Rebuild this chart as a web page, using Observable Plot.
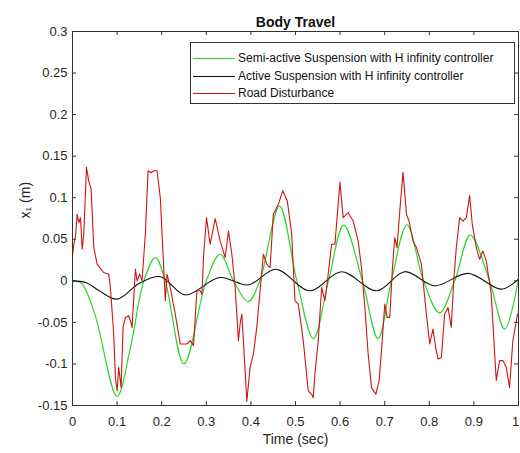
<!DOCTYPE html>
<html><head><meta charset="utf-8">
<script src="https://cdn.jsdelivr.net/npm/d3@7"></script>
<script src="https://cdn.jsdelivr.net/npm/@observablehq/plot@0.6"></script>
<style>body{margin:0;background:#fff}</style>
</head><body><div id="chart"></div>
<script>
const title = "Body Travel";
const xLabel = "Time (sec)";
const yLabel = "x\u2081 (m)";
const xTicks = [0, 0.1, 0.2, 0.3, 0.4, 0.5, 0.6, 0.7, 0.8, 0.9, 1];
const xTickLabels = ["0", "0.1", "0.2", "0.3", "0.4", "0.5", "0.6", "0.7", "0.8", "0.9", "1"];
const yTicks = [-0.15, -0.1, -0.05, 0, 0.05, 0.1, 0.15, 0.2, 0.25, 0.3];
const yTickLabels = ["-0.15", "-0.1", "-0.05", "0", "0.05", "0.1", "0.15", "0.2", "0.25", "0.3"];
const seriesNames = [
  "Semi-active Suspension with H infinity controller",
  "Active Suspension with H infinity controller",
  "Road Disturbance"
];
const seriesColors = ["#2ad62a", "#111111", "#cc1515"];

// Semi-active suspension (green)
const semiT = [0, 0.02, 0.05, 0.1, 0.13, 0.16, 0.186, 0.208, 0.25, 0.3, 0.331, 0.361, 0.394, 0.42, 0.464, 0.503, 0.54, 0.574, 0.608, 0.65, 0.685, 0.715, 0.75, 0.787, 0.823, 0.857, 0.892, 0.935, 0.969, 1.0];
const semiX = [0, -0.003, -0.04, -0.139, -0.08, 0, 0.028, 0, -0.1, 0, 0.032, 0, -0.025, 0, 0.09, 0, -0.0695, 0, 0.067, 0, -0.0695, 0, 0.0675, 0, -0.0386, 0, 0.055, 0, -0.058, 0.002];

// Active suspension (black)
const activeT = [0, 0.03, 0.06, 0.1, 0.15, 0.197, 0.253, 0.33, 0.394, 0.456, 0.532, 0.603, 0.682, 0.745, 0.812, 0.887, 0.961, 1.0];
const activeX = [0, -0.002, -0.012, -0.022, -0.003, 0.005, -0.017, 0.004, -0.005, 0.014, -0.012, 0.011, -0.012, 0.011, -0.006, 0.009, -0.01, 0.002];

// Road disturbance (red)
const roadT = [0, 0.003, 0.0067, 0.0105, 0.0141, 0.0179, 0.0217, 0.0253, 0.0313, 0.0365, 0.0418, 0.0477, 0.0553, 0.07, 0.0812, 0.085, 0.0924, 0.0962, 0.1, 0.1036, 0.109, 0.1134, 0.1186, 0.126, 0.1298, 0.1336, 0.141, 0.1448, 0.1506, 0.1559, 0.1633, 0.1694, 0.1761, 0.1819, 0.1895, 0.1969, 0.2081, 0.2119, 0.2192, 0.2304, 0.2416, 0.2566, 0.264, 0.2714, 0.2752, 0.279, 0.2864, 0.2902, 0.2937, 0.3004, 0.3087, 0.3199, 0.3311, 0.3423, 0.3497, 0.3573, 0.3647, 0.372, 0.3758, 0.3796, 0.3832, 0.3908, 0.3982, 0.4056, 0.4132, 0.4206, 0.428, 0.4356, 0.443, 0.4503, 0.4615, 0.4714, 0.4817, 0.4915, 0.4989, 0.5063, 0.5174, 0.5286, 0.5362, 0.5398, 0.5436, 0.551, 0.5586, 0.566, 0.5698, 0.581, 0.5884, 0.5996, 0.6069, 0.6181, 0.6293, 0.6405, 0.6481, 0.6555, 0.6629, 0.6705, 0.6801, 0.6875, 0.6928, 0.7002, 0.7054, 0.7114, 0.7174, 0.7226, 0.7277, 0.7338, 0.7412, 0.7488, 0.7546, 0.7635, 0.7711, 0.7823, 0.7919, 0.8009, 0.8082, 0.8143, 0.8195, 0.8271, 0.8345, 0.8419, 0.8494, 0.8546, 0.8606, 0.868, 0.8754, 0.883, 0.8904, 0.8964, 0.9054, 0.9128, 0.9201, 0.9277, 0.9389, 0.9501, 0.9575, 0.9649, 0.9725, 0.9799, 0.9873, 0.9978];
const roadX = [0.03, 0.044, 0.054, 0.08, 0.07, 0.076, 0.038, 0.056, 0.1366, 0.12, 0.11, 0.04, 0.02, 0.01, 0.008, -0.008, -0.064, -0.1165, -0.1325, -0.104, -0.1285, -0.056, -0.044, -0.042, -0.048, -0.056, 0.014, 0, 0.008, 0, 0.056, 0.1325, 0.13, 0.1325, 0.1325, 0.1, -0.024, 0.008, -0.008, -0.04, -0.076, -0.076, -0.072, -0.078, -0.044, -0.012, -0.012, -0.016, 0.028, 0.076, 0.044, 0.075, 0.048, 0.028, 0.06, 0.032, -0.008, -0.072, -0.052, -0.04, -0.072, -0.145, -0.104, -0.088, -0.056, -0.012, 0.032, 0.02, 0.016, 0.08, 0.092, 0.1085, 0.096, 0.056, -0.024, -0.028, -0.072, -0.1325, -0.1365, -0.1406, -0.112, -0.072, -0.008, -0.024, -0.008, 0.044, 0.044, 0.1185, 0.076, 0.082, 0.072, 0.048, 0.015, -0.032, -0.088, -0.1285, -0.1365, -0.12, -0.084, -0.028, -0.044, -0.044, 0.016, 0.052, 0.04, 0.084, 0.1305, 0.08, 0.072, 0.048, 0.04, 0.02, -0.032, -0.076, -0.058, -0.08, -0.094, -0.092, -0.04, -0.032, -0.056, 0, 0.04, 0.076, 0.072, 0.076, 0.1025, 0.068, 0.04, 0.026, 0.036, 0.024, -0.016, -0.12, -0.096, -0.096, -0.104, -0.1285, -0.072, -0.04];

const rows = (T, X) => T.map((t, i) => ({t, v: X[i]}));
const W = 520, H = 453, mL = 72, mR = 2, mT = 31, mB = 48;
const plotH = H - mT - mB, plotW = W - mL - mR, tk = 4;
const xLab = new Map(xTicks.map((d, i) => [d, xTickLabels[i]]));
const yLab = new Map(yTicks.map((d, i) => [d, yTickLabels[i]]));
const font = "'Liberation Sans', Arial, Helvetica, sans-serif";
const xTicksInner = xTicks.slice(0, -1), xTickLast = xTicks.slice(-1);

const plot = Plot.plot({
  width: W, height: H,
  marginLeft: mL, marginRight: mR, marginTop: mT, marginBottom: mB,
  style: {fontFamily: font, fontSize: "13px", color: "#262626", background: "#fff"},
  x: {domain: [0, 1]},
  y: {domain: [-0.15, 0.3]},
  marks: [
    Plot.line(rows(semiT, semiX), {x: "t", y: "v", stroke: seriesColors[0], strokeWidth: 1.2, curve: "catmull-rom"}),
    Plot.line(rows(activeT, activeX), {x: "t", y: "v", stroke: seriesColors[1], strokeWidth: 1.1, curve: "catmull-rom"}),
    Plot.line(rows(roadT, roadX), {x: "t", y: "v", stroke: seriesColors[2], strokeWidth: 1.1}),
    Plot.frame({stroke: "#333", strokeWidth: 1}),
    Plot.tickX(xTicks, {x: d => d, insetTop: plotH - tk, stroke: "#333"}),
    Plot.tickX(xTicks, {x: d => d, insetBottom: plotH - tk, stroke: "#333"}),
    Plot.tickY(yTicks, {y: d => d, insetRight: plotW - tk, stroke: "#333"}),
    Plot.tickY(yTicks, {y: d => d, insetLeft: plotW - tk, stroke: "#333"}),
    Plot.axisX({ticks: xTicksInner, tickSize: 0, tickPadding: 11, tickFormat: d => xLab.get(d), label: null, fontSize: 13}),
    Plot.axisX({ticks: xTickLast, tickSize: 0, tickPadding: 11, tickFormat: d => xLab.get(d), label: null, fontSize: 13, dx: -3}),
    Plot.axisY({ticks: yTicks, tickSize: 0, tickPadding: 5, tickFormat: d => yLab.get(d), label: null, fontSize: 13}),
    Plot.text([title], {frameAnchor: "top", dy: -14, text: d => d, fontWeight: "bold", fontSize: 14, fill: "#111"}),
    Plot.text([xLabel], {frameAnchor: "bottom", dy: 38, text: d => d, fontSize: 14, fill: "#262626"}),
    Plot.text([yLabel], {frameAnchor: "left", dx: -47, rotate: -90, text: d => d, fontSize: 14, fill: "#262626"})
  ]
});

// Legend box (MATLAB style) inside the plot area
const svg = d3.select(plot);
const lg = svg.append("g").attr("font-family", font).attr("font-size", 12).attr("text-anchor", "start");
const box = {x: 190, y: 42, w: 324, h: 61}, rowY = [58, 76, 93];
lg.append("rect").attr("x", box.x + 0.5).attr("y", box.y + 0.5).attr("width", box.w).attr("height", box.h)
  .attr("fill", "#fff").attr("stroke", "#333");
seriesNames.forEach((name, i) => {
  lg.append("line").attr("x1", 193).attr("x2", 235).attr("y1", rowY[i] + 0.5).attr("y2", rowY[i] + 0.5)
    .attr("stroke", seriesColors[i]).attr("stroke-width", 1);
  lg.append("text").attr("x", 238).attr("y", rowY[i]).attr("dy", "0.35em").attr("text-anchor", "start")
    .attr("fill", "#111").text(name);
});

document.getElementById("chart").appendChild(plot);
</script>
</body></html>
